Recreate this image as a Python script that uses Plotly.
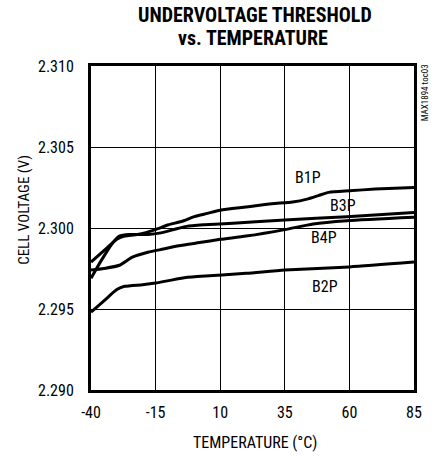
import plotly.graph_objects as go

temp_b1p = [-40, -35, -30, -27, -22, -15, -10, -5, 0, 5, 10, 20, 30, 38, 44, 48, 52, 60, 70, 85]
v_b1p = [2.2979, 2.2986, 2.2993, 2.2995, 2.2996, 2.2999, 2.3002, 2.3004, 2.3007, 2.3009, 2.3011, 2.3013, 2.3015, 2.3016, 2.3018, 2.3020, 2.3022, 2.3023, 2.3024, 2.3025]

temp_b3p = [-40, -36, -32, -29, -25, -18, -13, -8, -3, 4, 15, 35, 59, 85]
v_b3p = [2.2969, 2.2980, 2.2990, 2.2995, 2.2996, 2.2996, 2.2997, 2.2999, 2.3001, 2.3002, 2.3003, 2.3005, 2.3007, 2.30095]

temp_b4p = [-40, -35, -29, -24, -18, -12, -6, 2, 10, 20, 35, 46, 59, 85]
v_b4p = [2.2974, 2.2975, 2.2977, 2.2982, 2.2985, 2.2987, 2.2989, 2.2991, 2.2993, 2.2995, 2.2999, 2.30025, 2.30045, 2.30066]

temp_b2p = [-40, -35, -30, -27, -20, -15, -5, 1, 20, 35, 60, 85]
v_b2p = [2.2948, 2.2955, 2.2962, 2.2964, 2.2965, 2.2966, 2.2969, 2.2970, 2.2972, 2.2974, 2.2976, 2.2979]

labels = ["B1P", "B3P", "B4P", "B2P"]
label_t = [44, 57.5, 50, 50.6]
label_v = [2.3031, 2.30142, 2.29944, 2.29642]

x_ticks = [-40, -15, 10, 35, 60, 85]
y_ticks = [2.290, 2.295, 2.300, 2.305, 2.310]

FONT = "Roboto Condensed, Liberation Sans Narrow, Arial Narrow, sans-serif"

fig = go.Figure()
for t, v in [(temp_b1p, v_b1p), (temp_b3p, v_b3p), (temp_b4p, v_b4p), (temp_b2p, v_b2p)]:
    fig.add_trace(go.Scatter(x=t, y=v, mode="lines", line=dict(color="black", width=3, shape="spline", smoothing=0.6),
                             showlegend=False, hoverinfo="skip"))

for lab, t, v in zip(labels, label_t, label_v):
    fig.add_annotation(x=t, y=v, text=lab, showarrow=False, font=dict(family=FONT, size=16, color="black"))

# chart title (two lines)
fig.add_annotation(xref="paper", yref="paper", x=0.5, xshift=2, y=1.157, text="<b>UNDERVOLTAGE THRESHOLD</b>",
                   showarrow=False, xanchor="center", yanchor="middle", font=dict(family=FONT, size=20, color="black"))
fig.add_annotation(xref="paper", yref="paper", x=0.5, xshift=0, y=1.085, text="<b>vs. TEMPERATURE</b>",
                   showarrow=False, xanchor="center", yanchor="middle", font=dict(family=FONT, size=20, color="black"))

# axis titles
fig.add_annotation(xref="paper", yref="paper", x=0.5, xshift=2, y=0, yshift=-52, text="TEMPERATURE (°C)",
                   showarrow=False, xanchor="center", yanchor="middle", font=dict(family=FONT, size=16, color="black"))
fig.add_annotation(xref="paper", yref="paper", x=0, xshift=-67, y=0.556, text="CELL VOLTAGE (V)", textangle=-90,
                   showarrow=False, xanchor="center", yanchor="middle", font=dict(family=FONT, size=15, color="black"))

fig.add_annotation(xref="paper", yref="paper", x=1.0, xshift=11, y=1.01, text="MAX1894 toc03", textangle=-90,
                   showarrow=False, xanchor="center", yanchor="top", font=dict(family=FONT, size=9, color="black"))

fig.update_layout(
    width=436, height=456,
    margin=dict(l=91, r=22, t=66, b=66),
    paper_bgcolor="white", plot_bgcolor="white",
    font=dict(family=FONT, size=16, color="black"),
)
fig.update_xaxes(range=[-40, 85], tickvals=x_ticks, ticktext=[str(v) for v in x_ticks],
                 showgrid=True, gridcolor="black", gridwidth=1, zeroline=False, automargin=False,
                 showline=True, linecolor="black", linewidth=3, mirror=True, ticks="", ticklen=0,
                 ticklabelstandoff=6, tickfont=dict(family=FONT, size=16))
fig.update_yaxes(range=[2.290, 2.310], tickvals=y_ticks, ticktext=["%.3f" % v for v in y_ticks],
                 showgrid=True, gridcolor="black", gridwidth=1, zeroline=False, automargin=False,
                 showline=True, linecolor="black", linewidth=3, mirror=True, ticks="", ticklen=0,
                 ticklabelstandoff=11, tickfont=dict(family=FONT, size=16))

fig.write_html("out.html", config={"displayModeBar": False}, post_script="document.body.style.margin='0';")
